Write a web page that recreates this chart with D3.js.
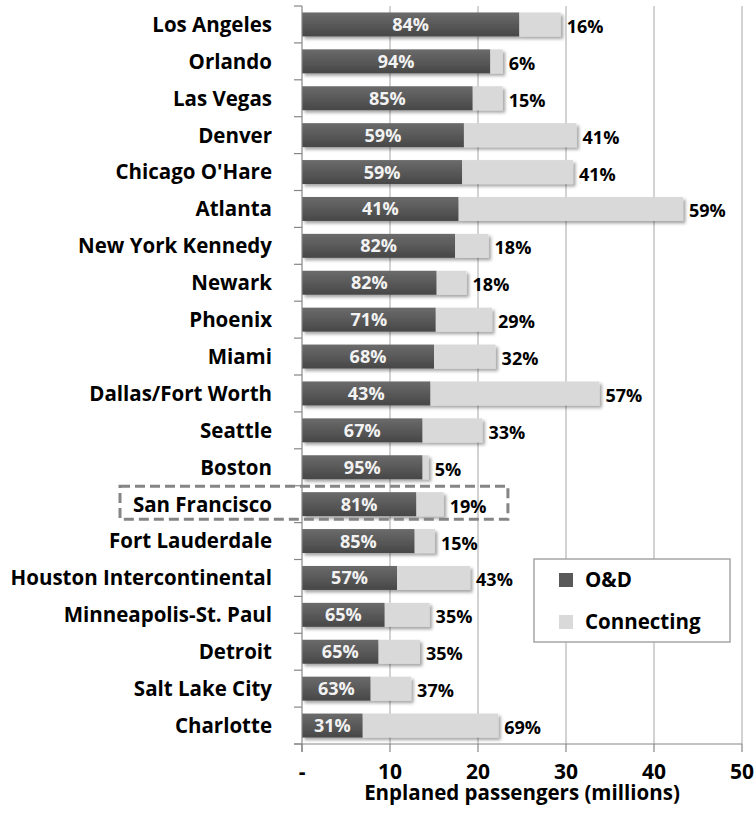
<!DOCTYPE html>
<html>
<head>
<meta charset="utf-8">
<script src="https://cdn.jsdelivr.net/npm/d3@7"></script>
<style>
  body { margin: 0; background: #fff; }
  svg { display: block; font-family: "Open Sans", Lato, sans-serif; font-weight: bold; }
  .grid-line { stroke: #a6a6a6; stroke-width: 1; }
  .axis-line { stroke: #868686; stroke-width: 1.2; }
  .cat-label { font-size: 20.5px; fill: #000; }
  .in-label { font-size: 18px; fill: #f2f2f2; }
  .out-label { font-size: 18px; fill: #000; }
  .tick-label { font-size: 21px; fill: #000; }
  .axis-title { font-size: 20.5px; fill: #000; }
  .legend-text { font-size: 20.5px; fill: #000; }
</style>
</head>
<body>
<svg id="chart"></svg>
<script>
// Airports, top to bottom
const airports = [
  "Los Angeles", "Orlando", "Las Vegas", "Denver", "Chicago O'Hare", "Atlanta",
  "New York Kennedy", "Newark", "Phoenix", "Miami", "Dallas/Fort Worth", "Seattle",
  "Boston", "San Francisco", "Fort Lauderdale", "Houston Intercontinental",
  "Minneapolis-St. Paul", "Detroit", "Salt Lake City", "Charlotte"
];

// Enplaned passengers, millions
const odValues = [24.7, 21.4, 19.4, 18.4, 18.2, 17.8, 17.4, 15.3, 15.2, 15.0,
                  14.6, 13.7, 13.7, 13.0, 12.8, 10.8, 9.4, 8.7, 7.8, 6.9];
const connValues = [4.7, 1.4, 3.4, 12.8, 12.6, 25.5, 3.8, 3.4, 6.4, 7.0,
                    19.2, 6.8, 0.7, 3.1, 2.3, 8.3, 5.1, 4.7, 4.6, 15.4];

// Share labels as printed
const odShare = ["84%", "94%", "85%", "59%", "59%", "41%", "82%", "82%", "71%", "68%",
                 "43%", "67%", "95%", "81%", "85%", "57%", "65%", "65%", "63%", "31%"];
const connShare = ["16%", "6%", "15%", "41%", "41%", "59%", "18%", "18%", "29%", "32%",
                   "57%", "33%", "5%", "19%", "15%", "43%", "35%", "35%", "37%", "69%"];

const xTicks = [0, 10, 20, 30, 40, 50];
const xTickLabels = ["-", "10", "20", "30", "40", "50"];
const seriesNames = ["O&D", "Connecting"];
const highlight = "San Francisco";

const W = 756, H = 818;
const margin = { top: 6, right: 14, bottom: 74, left: 302 };
const width = W - margin.left - margin.right;
const height = H - margin.top - margin.bottom;

const svg = d3.select("#chart").attr("width", W).attr("height", H);

const defs = svg.append("defs");
const grad = defs.append("linearGradient")
  .attr("id", "darkGrad").attr("x1", 0).attr("y1", 0).attr("x2", 0).attr("y2", 1);
grad.append("stop").attr("offset", "0%").attr("stop-color", "#6b6b6b");
grad.append("stop").attr("offset", "50%").attr("stop-color", "#595959");
grad.append("stop").attr("offset", "100%").attr("stop-color", "#474747");

const shadow = defs.append("filter").attr("id", "shadow")
  .attr("x", "-5%").attr("y", "-30%").attr("width", "115%").attr("height", "190%");
shadow.append("feDropShadow")
  .attr("dx", 2.5).attr("dy", 2.5).attr("stdDeviation", 1.6)
  .attr("flood-color", "#000").attr("flood-opacity", 0.35);

const g = svg.append("g").attr("transform", `translate(${margin.left},${margin.top})`);

const x = d3.scaleLinear().domain([0, 50]).range([0, width]);
const y = d3.scaleBand().domain(airports).range([0, height])
  .paddingInner(0.35).paddingOuter(0.175);

// Vertical grid lines
g.selectAll(".grid-line")
  .data(xTicks.slice(1))
  .join("line")
  .attr("class", "grid-line")
  .attr("x1", d => x(d)).attr("x2", d => x(d))
  .attr("y1", 0).attr("y2", height);

// Highlight box behind San Francisco
const hy = y(highlight) + y.bandwidth() / 2;
svg.append("rect")
  .attr("x", 120)
  .attr("y", margin.top + hy - 18)
  .attr("width", margin.left + x(23.4) - 120)
  .attr("height", 33)
  .attr("fill", "none")
  .attr("stroke", "#858585")
  .attr("stroke-width", 3)
  .attr("stroke-dasharray", "10,5");

// Bars
const rows = airports.map((a, i) => ({
  airport: a, od: odValues[i], conn: connValues[i],
  odLabel: odShare[i], connLabel: connShare[i]
}));

const barG = g.selectAll(".bar")
  .data(rows)
  .join("g")
  .attr("class", "bar")
  .attr("filter", "url(#shadow)");

barG.append("rect")
  .attr("x", x(0))
  .attr("y", d => y(d.airport))
  .attr("width", d => x(d.od) - x(0))
  .attr("height", y.bandwidth())
  .attr("fill", "url(#darkGrad)");

barG.append("rect")
  .attr("x", d => x(d.od))
  .attr("y", d => y(d.airport))
  .attr("width", d => x(d.od + d.conn) - x(d.od))
  .attr("height", y.bandwidth())
  .attr("fill", "#d9d9d9");

// Labels inside dark segment
g.selectAll(".in-label")
  .data(rows)
  .join("text")
  .attr("class", "in-label")
  .attr("x", d => x(d.od / 2))
  .attr("y", d => y(d.airport) + y.bandwidth() / 2)
  .attr("dy", "0.36em")
  .attr("text-anchor", "middle")
  .text(d => d.odLabel);

// Labels past the bar end
g.selectAll(".out-label")
  .data(rows)
  .join("text")
  .attr("class", "out-label")
  .attr("x", d => x(d.od + d.conn) + 6)
  .attr("y", d => y(d.airport) + y.bandwidth() / 2 + 2)
  .attr("dy", "0.36em")
  .text(d => d.connLabel);

// Left axis with ticks at band boundaries
g.append("line").attr("class", "axis-line")
  .attr("x1", 0).attr("x2", 0).attr("y1", 0).attr("y2", height + 8);
const bounds = d3.range(airports.length + 1).map(i => i * y.step());
g.selectAll(".ytick")
  .data(bounds)
  .join("line")
  .attr("class", "axis-line ytick")
  .attr("x1", -8).attr("x2", 0)
  .attr("y1", d => d).attr("y2", d => d);

g.selectAll(".cat-label")
  .data(airports)
  .join("text")
  .attr("class", "cat-label")
  .attr("x", -30)
  .attr("y", d => y(d) + y.bandwidth() / 2)
  .attr("dy", "0.36em")
  .attr("text-anchor", "end")
  .text(d => d);

// Bottom axis
g.append("line").attr("class", "axis-line")
  .attr("x1", -8).attr("x2", width).attr("y1", height).attr("y2", height);
g.selectAll(".xtick")
  .data(xTicks)
  .join("line")
  .attr("class", "axis-line xtick")
  .attr("x1", d => x(d)).attr("x2", d => x(d))
  .attr("y1", height).attr("y2", height + 8);

g.selectAll(".tick-label")
  .data(xTicks)
  .join("text")
  .attr("class", "tick-label")
  .attr("x", d => x(d))
  .attr("y", height + 35)
  .attr("text-anchor", "middle")
  .text((d, i) => xTickLabels[i]);

g.append("text")
  .attr("class", "axis-title")
  .attr("x", width / 2)
  .attr("y", height + 56)
  .attr("text-anchor", "middle")
  .text("Enplaned passengers (millions)");

// Legend
const legend = svg.append("g").attr("transform", "translate(534,559)");
legend.append("rect")
  .attr("width", 196).attr("height", 83)
  .attr("fill", "#fff").attr("stroke", "#a6a6a6").attr("stroke-width", 1.5);
const legendFills = ["#595959", "#d9d9d9"];
const li = legend.selectAll(".li")
  .data(seriesNames)
  .join("g")
  .attr("class", "li")
  .attr("transform", (d, i) => `translate(25,${21 + i * 42})`);
li.append("rect")
  .attr("y", -7).attr("width", 14).attr("height", 14)
  .attr("fill", (d, i) => legendFills[i]);
li.append("text")
  .attr("class", "legend-text")
  .attr("x", 26)
  .attr("dy", "0.36em")
  .text(d => d);
</script>
</body>
</html>
